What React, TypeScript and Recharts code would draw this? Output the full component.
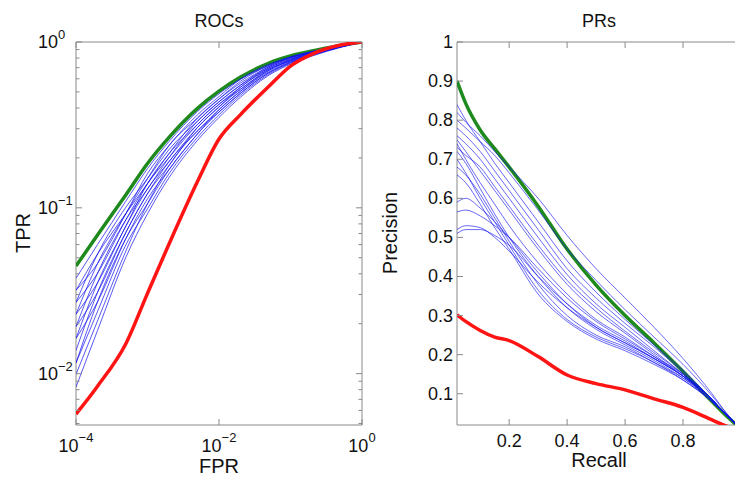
import React from 'react';
import { LineChart, Line, XAxis, YAxis, ReferenceArea } from 'recharts';

// ---------- ROC data ----------
const rocFpr = [1e-4, 2e-4, 5e-4, 1e-3, 2e-3, 5e-3, 1e-2, 2e-2, 5e-2, 0.1, 0.2, 0.5, 1];
const rocGreen = [0.0445, 0.0686, 0.12, 0.185, 0.266, 0.398, 0.505, 0.614, 0.746, 0.823, 0.882, 0.952, 1];
const rocRed = [0.0057, 0.0084, 0.0152, 0.0305, 0.0605, 0.144, 0.26, 0.365, 0.541, 0.716, 0.846, 0.959, 1];
const rocBlue = [
  [0.0376, 0.06, 0.11, 0.1725, 0.251, 0.381, 0.487, 0.597, 0.722, 0.813, 0.876, 0.95, 1],
  [0.0318, 0.0461, 0.0925, 0.161, 0.2375, 0.364, 0.469, 0.597, 0.734, 0.813, 0.876, 0.95, 1],
  [0.0318, 0.0526, 0.0925, 0.14, 0.2123, 0.348, 0.453, 0.565, 0.71, 0.804, 0.87, 0.948, 1],
  [0.0269, 0.0526, 0.101, 0.15, 0.2245, 0.333, 0.436, 0.549, 0.71, 0.796, 0.864, 0.945, 1],
  [0.0269, 0.0403, 0.0849, 0.14, 0.201, 0.318, 0.421, 0.534, 0.698, 0.787, 0.858, 0.945, 1],
  [0.0228, 0.0461, 0.0925, 0.15, 0.2375, 0.348, 0.453, 0.58, 0.722, 0.804, 0.87, 0.948, 1],
  [0.0228, 0.0353, 0.0778, 0.13, 0.19, 0.305, 0.406, 0.519, 0.675, 0.778, 0.852, 0.939, 1],
  [0.0192, 0.0403, 0.0849, 0.13, 0.201, 0.333, 0.436, 0.549, 0.698, 0.787, 0.864, 0.945, 1],
  [0.0192, 0.0309, 0.0713, 0.1216, 0.19, 0.291, 0.391, 0.505, 0.663, 0.761, 0.846, 0.937, 1],
  [0.0163, 0.0353, 0.0778, 0.14, 0.2123, 0.318, 0.421, 0.519, 0.686, 0.778, 0.858, 0.942, 1],
  [0.0163, 0.0271, 0.0655, 0.1135, 0.17, 0.279, 0.378, 0.491, 0.653, 0.753, 0.84, 0.934, 1],
  [0.0138, 0.0309, 0.0713, 0.1216, 0.18, 0.305, 0.406, 0.534, 0.686, 0.769, 0.852, 0.939, 1],
  [0.0116, 0.0237, 0.06, 0.0987, 0.1607, 0.266, 0.364, 0.478, 0.641, 0.745, 0.829, 0.932, 1],
  [0.0116, 0.0271, 0.0655, 0.1059, 0.17, 0.279, 0.391, 0.505, 0.675, 0.769, 0.846, 0.937, 1],
  [0.0099, 0.0208, 0.0551, 0.1059, 0.18, 0.291, 0.378, 0.491, 0.653, 0.753, 0.835, 0.932, 1],
  [0.0083, 0.0182, 0.0505, 0.092, 0.152, 0.255, 0.351, 0.465, 0.631, 0.736, 0.823, 0.927, 1],
];
const rocXTicks = [1e-4, 1e-2, 1];
const rocYTicks = [
  0.005, 0.006, 0.007, 0.008, 0.009, 0.01,
  0.02, 0.03, 0.04, 0.05, 0.06, 0.07, 0.08, 0.09, 0.1,
  0.2, 0.3, 0.4, 0.5, 0.6, 0.7, 0.8, 0.9, 1,
];

// ---------- PR data ----------
const prRecall = [0.02, 0.05, 0.1, 0.15, 0.2, 0.3, 0.4, 0.5, 0.6, 0.7, 0.8, 0.9, 0.95, 1.0];
const prGreen = [0.9, 0.843, 0.775, 0.727, 0.68, 0.58, 0.47, 0.378, 0.3, 0.23, 0.157, 0.08, 0.043, 0.01];
const prRed = [0.302, 0.285, 0.262, 0.245, 0.236, 0.195, 0.148, 0.126, 0.11, 0.087, 0.065, 0.033, 0.017, 0.005];
const prBlue = [
  [0.82, 0.795, 0.76, 0.72, 0.68, 0.6, 0.505, 0.42, 0.345, 0.27, 0.19, 0.1, 0.05, 0.01],
  [0.8, 0.78, 0.745, 0.71, 0.665, 0.57, 0.47, 0.39, 0.315, 0.245, 0.175, 0.095, 0.05, 0.01],
  [0.84, 0.8, 0.745, 0.69, 0.64, 0.54, 0.44, 0.36, 0.29, 0.225, 0.16, 0.085, 0.045, 0.01],
  [0.78, 0.76, 0.72, 0.67, 0.62, 0.52, 0.42, 0.345, 0.28, 0.22, 0.155, 0.085, 0.045, 0.01],
  [0.76, 0.74, 0.7, 0.65, 0.6, 0.5, 0.405, 0.33, 0.27, 0.21, 0.15, 0.085, 0.045, 0.01],
  [0.75, 0.72, 0.67, 0.62, 0.57, 0.47, 0.38, 0.31, 0.255, 0.2, 0.145, 0.08, 0.045, 0.01],
  [0.73, 0.71, 0.68, 0.63, 0.58, 0.48, 0.39, 0.32, 0.26, 0.205, 0.15, 0.085, 0.045, 0.01],
  [0.74, 0.7, 0.64, 0.585, 0.53, 0.435, 0.355, 0.29, 0.245, 0.195, 0.145, 0.085, 0.045, 0.01],
  [0.72, 0.69, 0.625, 0.56, 0.5, 0.4, 0.32, 0.265, 0.225, 0.185, 0.14, 0.08, 0.045, 0.01],
  [0.7, 0.665, 0.6, 0.54, 0.48, 0.365, 0.29, 0.245, 0.215, 0.18, 0.135, 0.08, 0.045, 0.01],
  [0.68, 0.66, 0.61, 0.55, 0.49, 0.38, 0.3, 0.25, 0.22, 0.18, 0.14, 0.085, 0.045, 0.01],
  [0.66, 0.64, 0.585, 0.525, 0.47, 0.355, 0.285, 0.24, 0.21, 0.175, 0.135, 0.08, 0.045, 0.01],
  [0.59, 0.6, 0.575, 0.54, 0.5, 0.41, 0.33, 0.27, 0.23, 0.19, 0.145, 0.085, 0.045, 0.01],
  [0.565, 0.57, 0.555, 0.53, 0.5, 0.42, 0.345, 0.285, 0.24, 0.195, 0.15, 0.085, 0.045, 0.01],
  [0.52, 0.53, 0.525, 0.5, 0.465, 0.385, 0.32, 0.27, 0.23, 0.19, 0.145, 0.085, 0.045, 0.01],
  [0.51, 0.52, 0.52, 0.505, 0.48, 0.4, 0.33, 0.275, 0.235, 0.19, 0.145, 0.085, 0.045, 0.01],
];
const prXTicks = [0.2, 0.4, 0.6, 0.8, 1];
const prYTicks = [0.1, 0.2, 0.3, 0.4, 0.5, 0.6, 0.7, 0.8, 0.9, 1];

// ---------- tables ----------
const rocData = rocFpr.map((f, i) => {
  const row: any = { fpr: f, green: rocGreen[i], red: rocRed[i] };
  rocBlue.forEach((c, j) => { row['b' + j] = c[i]; });
  return row;
});
const prData = prRecall.map((r, i) => {
  const row: any = { recall: r, green: prGreen[i], red: prRed[i] };
  prBlue.forEach((c, j) => { row['b' + j] = c[i]; });
  return row;
});

// ---------- styling ----------
const FONT = '"Liberation Sans", Arial, Helvetica, sans-serif';
const FRAME = '#8a8a8a';
const PW = 286;
const PH = 383;
const PW2 = 284;
const GREEN = '#1e8a1e';
const RED = '#ff1414';
const BLUE = '#1010f0';

const isDecade = (v: number) => {
  const l = Math.log10(v);
  return Math.abs(l - Math.round(l)) < 1e-9;
};
const expLabel = (v: number) => {
  const e = Math.round(Math.log10(v));
  return e < 0 ? '\u2212' + -e : String(e);
};

const RocYTick = (props: any) => {
  const { x, y, payload } = props;
  const v = payload.value;
  const major = isDecade(v);
  const len = major ? 6 : 3.5;
  return (
    <g>
      <line x1={x} x2={x + len} y1={y} y2={y} stroke={FRAME} strokeWidth={1} />
      <line x1={x + PW} x2={x + PW - len} y1={y} y2={y} stroke={FRAME} strokeWidth={1} />
      {major && (
        <text x={x - 38} y={y + 6} fontSize={18} fill="#111" fontFamily={FONT} textAnchor="start">
          10<tspan dy={-9} fontSize={13}>{expLabel(v)}</tspan>
        </text>
      )}
    </g>
  );
};

const RocXTick = (props: any) => {
  const { x, y, payload } = props;
  const v = payload.value;
  return (
    <g>
      <line x1={x} x2={x} y1={y} y2={y - 6} stroke={FRAME} strokeWidth={1} />
      <line x1={x} x2={x} y1={y - PH} y2={y - PH + 6} stroke={FRAME} strokeWidth={1} />
      <text x={x} y={y + 27} fontSize={18} fill="#111" fontFamily={FONT} textAnchor="middle">
        10<tspan dy={-10} fontSize={13}>{expLabel(v)}</tspan>
      </text>
    </g>
  );
};

const fmt = (v: number) => (Math.abs(v - 1) < 1e-9 ? '1' : v.toFixed(1));

const PrYTick = (props: any) => {
  const { x, y, payload } = props;
  const v = payload.value;
  return (
    <g>
      <line x1={x} x2={x + 6} y1={y} y2={y} stroke={FRAME} strokeWidth={1} />
      <line x1={x + PW2} x2={x + PW2 - 6} y1={y} y2={y} stroke={FRAME} strokeWidth={1} />
      <text x={x - 4} y={y + 6} fontSize={18} fill="#111" fontFamily={FONT} textAnchor="end">
        {fmt(v)}
      </text>
    </g>
  );
};

const PrXTick = (props: any) => {
  const { x, y, payload } = props;
  const v = payload.value;
  return (
    <g>
      <line x1={x} x2={x} y1={y} y2={y - 6} stroke={FRAME} strokeWidth={1} />
      <line x1={x} x2={x} y1={y - PH} y2={y - PH + 6} stroke={FRAME} strokeWidth={1} />
      <text x={x} y={y + 22} fontSize={18} fill="#111" fontFamily={FONT} textAnchor="middle">
        {fmt(v)}
      </text>
    </g>
  );
};

export default function App() {
  return (
    <div style={{ position: 'relative', width: 735, height: 470, overflow: 'hidden', background: '#fff' }}>
      <div style={{ position: 'absolute', left: 0, top: 0 }}>
        <LineChart width={370} height={470} data={rocData} margin={{ top: 34, right: 16, bottom: 0, left: 0 }}>
          <XAxis
            dataKey="fpr"
            type="number"
            scale="log"
            domain={[1e-4, 1]}
            ticks={rocXTicks}
            interval={0}
            tick={(p: any) => <RocXTick {...p} />}
            tickLine={false}
            tickSize={0}
            tickMargin={0}
            axisLine={false}
            height={53}
            allowDataOverflow
          />
          <YAxis
            type="number"
            scale="log"
            domain={[0.0049, 1]}
            ticks={rocYTicks}
            interval={0}
            tick={(p: any) => <RocYTick {...p} />}
            tickLine={false}
            tickSize={0}
            tickMargin={0}
            axisLine={false}
            width={68}
            allowDataOverflow
          />
          <Line dataKey="green" type="monotone" stroke={GREEN} strokeWidth={3.5} dot={false} activeDot={false} isAnimationActive={false} />
          {rocBlue.map((_, j) => (
            <Line key={'rb' + j} dataKey={'b' + j} type="monotone" stroke={BLUE} strokeWidth={1} strokeOpacity={0.7} dot={false} activeDot={false} isAnimationActive={false} />
          ))}
          <Line dataKey="red" type="monotone" stroke={RED} strokeWidth={3.5} dot={false} activeDot={false} isAnimationActive={false} />
          <ReferenceArea x1={1e-4} x2={1} y1={0.0049} y2={1} fill="none" stroke={FRAME} strokeWidth={1} ifOverflow="visible" />
        </LineChart>
      </div>
      <div style={{ position: 'absolute', left: 370, top: 0 }}>
        <LineChart width={380} height={470} data={prData} margin={{ top: 34, right: 17, bottom: 0, left: 0 }}>
          <XAxis
            dataKey="recall"
            type="number"
            domain={[0.02, 1]}
            ticks={prXTicks}
            interval={0}
            tick={(p: any) => <PrXTick {...p} />}
            tickLine={false}
            tickSize={0}
            tickMargin={0}
            axisLine={false}
            height={53}
            allowDataOverflow
          />
          <YAxis
            type="number"
            domain={[0.02, 1]}
            ticks={prYTicks}
            interval={0}
            tick={(p: any) => <PrYTick {...p} />}
            tickLine={false}
            tickSize={0}
            tickMargin={0}
            axisLine={false}
            width={79}
            allowDataOverflow
          />
          <Line dataKey="green" type="monotone" stroke={GREEN} strokeWidth={3.5} dot={false} activeDot={false} isAnimationActive={false} />
          {prBlue.map((_, j) => (
            <Line key={'pb' + j} dataKey={'b' + j} type="monotone" stroke={BLUE} strokeWidth={0.9} strokeOpacity={0.7} dot={false} activeDot={false} isAnimationActive={false} />
          ))}
          <Line dataKey="red" type="monotone" stroke={RED} strokeWidth={3.5} dot={false} activeDot={false} isAnimationActive={false} />
          <ReferenceArea x1={0.02} x2={1} y1={0.02} y2={1} fill="none" stroke={FRAME} strokeWidth={1} ifOverflow="visible" />
        </LineChart>
      </div>
      <svg width={735} height={470} style={{ position: 'absolute', left: 0, top: 0, pointerEvents: 'none' }}>
        <text x={211} y={19} fontSize={18} fontFamily={FONT} fill="#111" textAnchor="middle">ROCs</text>
        <text x={591} y={19} fontSize={18} fontFamily={FONT} fill="#111" textAnchor="middle">PRs</text>
        <text x={211} y={465} fontSize={20} fontFamily={FONT} fill="#111" textAnchor="middle">FPR</text>
        <text x={591} y={459} fontSize={20} fontFamily={FONT} fill="#111" textAnchor="middle">Recall</text>
        <text transform="translate(22,225) rotate(-90)" fontSize={20} fontFamily={FONT} fill="#111" textAnchor="middle">TPR</text>
        <text transform="translate(389,225) rotate(-90)" fontSize={20} fontFamily={FONT} fill="#111" textAnchor="middle">Precision</text>
      </svg>
    </div>
  );
}
